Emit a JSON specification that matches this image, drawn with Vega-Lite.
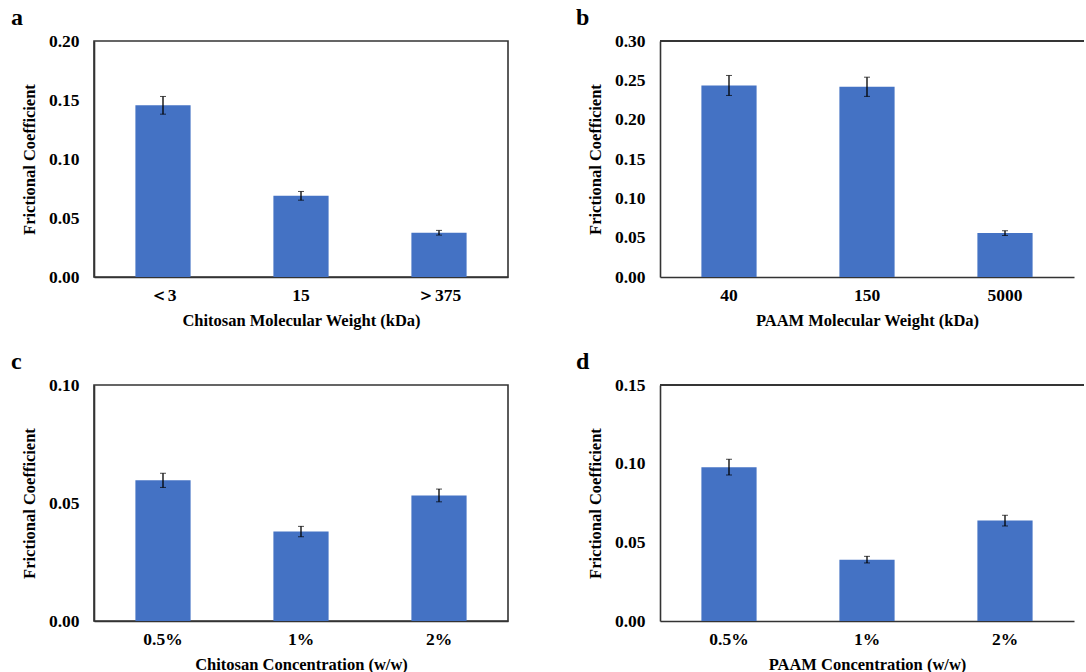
{
  "$schema": "https://vega.github.io/schema/vega-lite/v6.json",
  "autosize": {"type": "pad"},
  "padding": {"left": 10, "top": 5, "right": 0, "bottom": 0},
  "background": "white",
  "config": {
    "font": "Liberation Serif",
    "view": {"stroke": null},
    "axis": {
      "labelFont": "Liberation Serif",
      "titleFont": "Liberation Serif",
      "labelFontWeight": "bold",
      "titleFontWeight": "bold",
      "labelFontSize": 17.5,
      "titleFontSize": 16.5,
      "labelColor": "black",
      "titleColor": "black",
      "domainColor": "#333333",
      "domainWidth": 1.6,
      "grid": false,
      "labelOverlap": false
    },
    "axisX": {"ticks": false, "labelAngle": 0, "labelPadding": 9, "titlePadding": 9},
    "axisY": {"ticks": false, "labelPadding": 15, "titlePadding": 11, "format": ".2f"},
    "title": {"font": "Liberation Serif", "fontWeight": "bold", "fontSize": 24, "color": "black", "anchor": "start", "frame": "group"}
  },
  "columns": 2,
  "bounds": "flush",
  "spacing": {"row": 108, "column": 152},
  "concat": [
    {
      "width": 414,
      "height": 236,
      "view": {"stroke": "#333333", "strokeWidth": 1.6},
      "title": {"text": "a", "dx": -83, "offset": 2},
      "data": {"values": [
        {"mw": "＜3", "f": 0.1455, "e": 0.0075},
        {"mw": "15", "f": 0.0688, "e": 0.0037},
        {"mw": "＞375", "f": 0.0375, "e": 0.002}
      ]},
      "encoding": {
        "x": {"field": "mw", "type": "nominal", "sort": null, "title": "Chitosan Molecular Weight (kDa)",
              "scale": {"paddingInner": 0.6, "paddingOuter": 0.3}}
      },
      "layer": [
        {"mark": {"type": "bar", "color": "#4472C4"},
         "encoding": {"y": {"field": "f", "type": "quantitative", "title": "Frictional Coefficient",
                            "scale": {"domain": [0, 0.2], "nice": false},
                            "axis": {"values": [0, 0.05, 0.1, 0.15, 0.2], "labelOverlap": false}}}},
        {"mark": {"type": "errorbar", "color": "black", "ticks": {"size": 6, "color": "black", "strokeWidth": 1.3}, "rule": {"strokeWidth": 1.3}},
         "encoding": {"y": {"field": "f", "type": "quantitative", "title": "Frictional Coefficient"}, "yError": {"field": "e"}}}
      ]
    },
    {
      "width": 424,
      "height": 236,
      "title": {"text": "b", "dx": -84, "offset": 2},
      "data": {"values": [
        {"mw": "40", "f": 0.2435, "e": 0.0127},
        {"mw": "150", "f": 0.2418, "e": 0.0122},
        {"mw": "5000", "f": 0.0558, "e": 0.003}
      ]},
      "encoding": {
        "x": {"field": "mw", "type": "nominal", "sort": null, "title": "PAAM Molecular Weight (kDa)",
              "scale": {"paddingInner": 0.6, "paddingOuter": 0.3, "range": [0, 414]}}
      },
      "layer": [
        {"mark": {"type": "bar", "color": "#4472C4"},
         "encoding": {"y": {"field": "f", "type": "quantitative", "title": "Frictional Coefficient",
                            "scale": {"domain": [0, 0.3], "nice": false},
                            "axis": {"values": [0, 0.05, 0.1, 0.15, 0.2, 0.25, 0.3], "labelOverlap": false, "labelSeparation": 0}}}},
        {"mark": {"type": "errorbar", "color": "black", "ticks": {"size": 6, "color": "black", "strokeWidth": 1.3}, "rule": {"strokeWidth": 1.3}},
         "encoding": {"y": {"field": "f", "type": "quantitative", "title": "Frictional Coefficient", "axis": {"values": [0, 0.05, 0.1, 0.15, 0.2, 0.25, 0.3], "labelOverlap": false}}, "yError": {"field": "e"}}},
        {"mark": {"type": "rule", "color": "#333333", "strokeWidth": 1.6},
         "encoding": {"y": {"datum": 0.3, "type": "quantitative", "axis": {"values": [0, 0.05, 0.1, 0.15, 0.2, 0.25, 0.3], "labelOverlap": false}}, "x": null}}
      ]
    },
    {
      "width": 414,
      "height": 236,
      "view": {"stroke": "#333333", "strokeWidth": 1.6},
      "title": {"text": "c", "dx": -83, "offset": 2},
      "data": {"values": [
        {"c": "0.5%", "f": 0.0596, "e": 0.003},
        {"c": "1%", "f": 0.0379, "e": 0.0022},
        {"c": "2%", "f": 0.0532, "e": 0.0027}
      ]},
      "encoding": {
        "x": {"field": "c", "type": "nominal", "sort": null, "title": "Chitosan Concentration (w/w)",
              "scale": {"paddingInner": 0.6, "paddingOuter": 0.3}}
      },
      "layer": [
        {"mark": {"type": "bar", "color": "#4472C4"},
         "encoding": {"y": {"field": "f", "type": "quantitative", "title": "Frictional Coefficient",
                            "scale": {"domain": [0, 0.1], "nice": false},
                            "axis": {"values": [0, 0.05, 0.1]}}}},
        {"mark": {"type": "errorbar", "color": "black", "ticks": {"size": 6, "color": "black", "strokeWidth": 1.3}, "rule": {"strokeWidth": 1.3}},
         "encoding": {"y": {"field": "f", "type": "quantitative", "title": "Frictional Coefficient"}, "yError": {"field": "e"}}}
      ]
    },
    {
      "width": 424,
      "height": 236,
      "title": {"text": "d", "dx": -84, "offset": 2},
      "data": {"values": [
        {"c": "0.5%", "f": 0.0978, "e": 0.005},
        {"c": "1%", "f": 0.039, "e": 0.0021},
        {"c": "2%", "f": 0.0638, "e": 0.0034}
      ]},
      "encoding": {
        "x": {"field": "c", "type": "nominal", "sort": null, "title": "PAAM Concentration (w/w)",
              "scale": {"paddingInner": 0.6, "paddingOuter": 0.3, "range": [0, 414]}}
      },
      "layer": [
        {"mark": {"type": "bar", "color": "#4472C4"},
         "encoding": {"y": {"field": "f", "type": "quantitative", "title": "Frictional Coefficient",
                            "scale": {"domain": [0, 0.15], "nice": false},
                            "axis": {"values": [0, 0.05, 0.1, 0.15]}}}},
        {"mark": {"type": "errorbar", "color": "black", "ticks": {"size": 6, "color": "black", "strokeWidth": 1.3}, "rule": {"strokeWidth": 1.3}},
         "encoding": {"y": {"field": "f", "type": "quantitative", "title": "Frictional Coefficient"}, "yError": {"field": "e"}}},
        {"mark": {"type": "rule", "color": "#333333", "strokeWidth": 1.6},
         "encoding": {"y": {"datum": 0.15, "type": "quantitative"}, "x": null}}
      ]
    }
  ]
}
